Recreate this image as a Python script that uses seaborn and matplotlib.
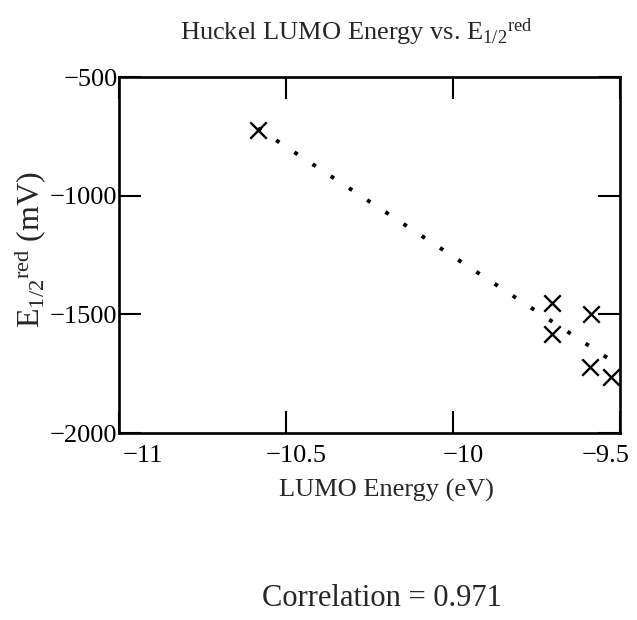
import numpy as np
import pandas as pd
import matplotlib
matplotlib.use("Agg")
import matplotlib.pyplot as plt
import matplotlib.transforms as mtransforms
import seaborn as sns

# ---- data ----
lumo_energy = [-10.584, -9.704, -9.704, -9.587, -9.590, -9.527]   # eV
e_half_red = [-723, -1452, -1583, -1498, -1722, -1764]            # mV
x_ticks = [-11, -10.5, -10, -9.5]
y_ticks = [-2000, -1500, -1000, -500]
x_tick_labels = ["\u221211", "\u221210.5", "\u221210", "\u22129.5"]
y_tick_labels = ["\u22122000", "\u22121500", "\u22121000", "\u2212500"]
correlation_text = "Correlation = 0.971"

df = pd.DataFrame({"lumo": lumo_energy, "ered": e_half_red})

sns.set_style("white")
plt.rcParams["font.family"] = ["Liberation Serif", "DejaVu Serif"]
plt.rcParams["mathtext.fontset"] = "custom"
plt.rcParams["mathtext.rm"] = "Liberation Serif"
plt.rcParams["mathtext.it"] = "Liberation Serif:italic"
plt.rcParams["mathtext.bf"] = "Liberation Serif:bold"
plt.rcParams["axes.unicode_minus"] = True

W, H = 637, 620
fig = plt.figure(figsize=(W / 100, H / 100), dpi=100)
ax = fig.add_axes([119 / W, 1 - 433 / H, 501 / W, 356 / H])

# dotted regression line
sns.regplot(data=df, x="lumo", y="ered", ax=ax, scatter=False, ci=None,
            truncate=True,
            line_kws=dict(color="black", linewidth=2.8, linestyle=(0, (1.0, 4.6)),
                          dash_capstyle="butt"))
# X markers
sns.scatterplot(data=df, x="lumo", y="ered", ax=ax, marker="x", s=140,
                color="black", linewidth=1.7, zorder=3)

ax.set_xlim(-11, -9.5)
ax.set_ylim(-2000, -500)
ax.set_xticks(x_ticks)
ax.set_xticklabels(x_tick_labels)
ax.set_yticks(y_ticks)
ax.set_yticklabels(y_tick_labels)
ax.set_xlabel("")
ax.set_ylabel("")

for s in ax.spines.values():
    s.set_linewidth(1.9)
    s.set_color("black")
    s.set_visible(True)

ax.tick_params(axis="both", which="major", direction="in", length=16, width=1.5,
               color="black", labelsize=19, labelcolor="black",
               top=True, right=True, bottom=True, left=True)
ax.tick_params(axis="x", pad=9)
ax.tick_params(axis="y", pad=1)

# Mathcad-style x tick label placement: first label starts at the axis,
# last ends at the axis, inner ones slightly to the right of their ticks
xl = ax.get_xticklabels()
xl[0].set_horizontalalignment("left")
xl[0].set_transform(xl[0].get_transform() +
                    mtransforms.ScaledTranslation(4 / 100, 0, fig.dpi_scale_trans))
xl[-1].set_horizontalalignment("right")
xl[-1].set_transform(xl[-1].get_transform() +
                     mtransforms.ScaledTranslation(10 / 100, 0, fig.dpi_scale_trans))
for lab in xl[1:-1]:
    lab.set_transform(lab.get_transform() +
                      mtransforms.ScaledTranslation(10 / 100, 0, fig.dpi_scale_trans))

# title
fig.text(356 / W, 1 - 32 / H, "Huckel LUMO Energy vs. E$_{1/2}$$^{\\mathrm{red}}$",
         ha="center", va="center", fontsize=19)
# y label
fig.text(30 / W, 1 - 250 / H, "E$_{1/2}$$^{\\mathrm{red}}$ (mV)", rotation=90,
         ha="center", va="center", fontsize=23)
# x label
fig.text(386 / W, 1 - 490 / H, "LUMO Energy (eV)", ha="center", va="center",
         fontsize=19)
# correlation
fig.text(382 / W, 1 - 598 / H, correlation_text, ha="center", va="center",
         fontsize=22)

fig.savefig("out.png", dpi=100, facecolor="white")
